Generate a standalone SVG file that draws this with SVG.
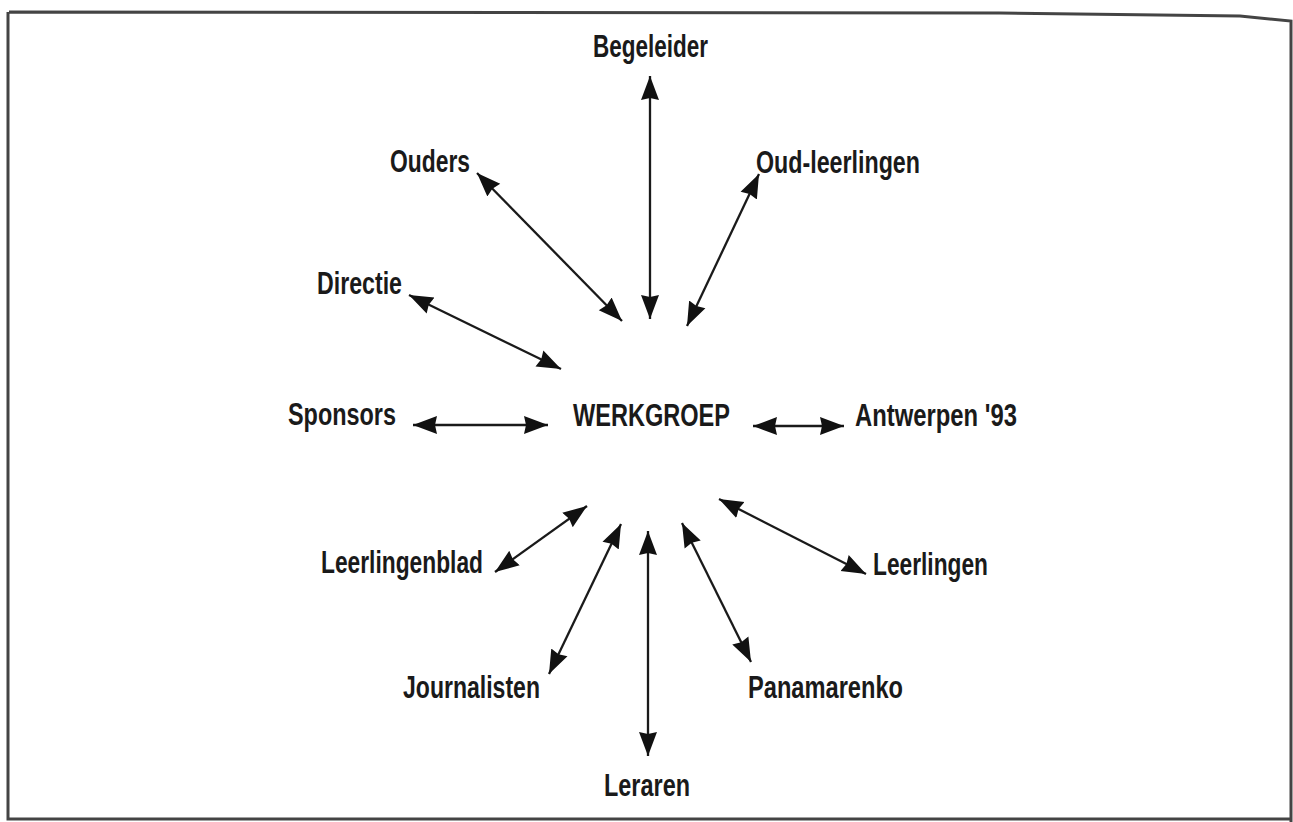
<svg xmlns="http://www.w3.org/2000/svg" width="1293" height="822" viewBox="0 0 1293 822">
  <style>
    .lbl { font-family: "Liberation Sans", Arial, sans-serif; font-weight: bold; font-size: 31px; fill: #1a1a1a; }
    .con { stroke: #1a1a1a; stroke-width: 2.3; fill: none; marker-start: url(#ah); marker-end: url(#ah); }
  </style>
  <defs>
    <marker id="ah" markerUnits="userSpaceOnUse" markerWidth="28" markerHeight="22" refX="24" refY="10" orient="auto-start-reverse" viewBox="0 0 28 20">
      <path d="M0,1 L24,10 L0,19 L2,10 Z" fill="#111"/>
    </marker>
  </defs>
  <rect width="1293" height="822" fill="#ffffff"/>
  <path d="M9,12 L1000,13 L1240,16 L1291,21 L1291,822 M8,12 L8,819 L1291,819" fill="none" stroke="#444" stroke-width="3"/>

  <g id="connectors">
    <line class="con" x1="650" y1="76" x2="650" y2="319"/>
    <line class="con" x1="477" y1="173" x2="622" y2="321"/>
    <line class="con" x1="759" y1="174" x2="687" y2="326"/>
    <line class="con" x1="409" y1="295" x2="561" y2="369"/>
    <line class="con" x1="413" y1="425" x2="548" y2="425"/>
    <line class="con" x1="753" y1="426" x2="844" y2="426"/>
    <line class="con" x1="495" y1="572" x2="587" y2="506"/>
    <line class="con" x1="549" y1="674" x2="621" y2="524"/>
    <line class="con" x1="648" y1="531" x2="648" y2="756"/>
    <line class="con" x1="719" y1="499" x2="866" y2="574"/>
    <line class="con" x1="682" y1="523" x2="751" y2="662"/>
  </g>

  <g id="werkgroep"><text class="lbl" x="573" y="426" textLength="157" lengthAdjust="spacingAndGlyphs">WERKGROEP</text></g>
  <g id="begeleider"><text class="lbl" x="593" y="57" textLength="115" lengthAdjust="spacingAndGlyphs">Begeleider</text></g>
  <g id="ouders"><text class="lbl" x="390" y="172" textLength="80" lengthAdjust="spacingAndGlyphs">Ouders</text></g>
  <g id="oud-leerlingen"><text class="lbl" x="756" y="173" textLength="164" lengthAdjust="spacingAndGlyphs">Oud-leerlingen</text></g>
  <g id="directie"><text class="lbl" x="317" y="294" textLength="85" lengthAdjust="spacingAndGlyphs">Directie</text></g>
  <g id="sponsors"><text class="lbl" x="288" y="425" textLength="108" lengthAdjust="spacingAndGlyphs">Sponsors</text></g>
  <g id="antwerpen"><text class="lbl" x="855" y="426" textLength="162" lengthAdjust="spacingAndGlyphs">Antwerpen '93</text></g>
  <g id="leerlingenblad"><text class="lbl" x="321" y="573" textLength="162" lengthAdjust="spacingAndGlyphs">Leerlingenblad</text></g>
  <g id="leerlingen"><text class="lbl" x="873" y="575" textLength="115" lengthAdjust="spacingAndGlyphs">Leerlingen</text></g>
  <g id="journalisten"><text class="lbl" x="403" y="698" textLength="137" lengthAdjust="spacingAndGlyphs">Journalisten</text></g>
  <g id="panamarenko"><text class="lbl" x="748" y="698" textLength="155" lengthAdjust="spacingAndGlyphs">Panamarenko</text></g>
  <g id="leraren"><text class="lbl" x="604" y="796" textLength="86" lengthAdjust="spacingAndGlyphs">Leraren</text></g>
</svg>
